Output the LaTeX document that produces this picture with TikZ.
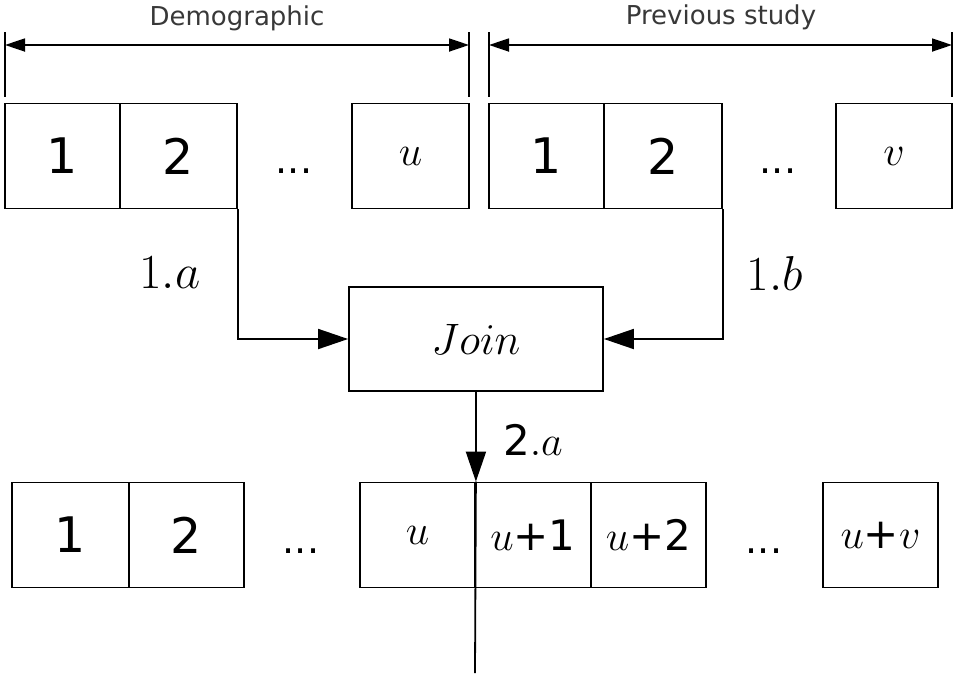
\RequirePackage{fix-cm}
\documentclass[tikz,border=0pt]{standalone}
\usepackage{fontspec}
\setmainfont{DejaVu Sans}
\usetikzlibrary{arrows.meta}
\begin{document}
\begin{tikzpicture}[x=1pt,y=-1pt,
  cell/.style={draw, line width=1.8pt, inner sep=0pt, minimum height=105pt,
    font=\fontsize{49}{49}\selectfont},
  mcell/.style={cell, font=\fontsize{42}{42}\selectfont},
  joinbox/.style={draw, line width=1.8pt, inner sep=0pt,
    minimum width=254pt, minimum height=104pt, font=\fontsize{44}{44}\selectfont},
  dots/.style={anchor=base, font=\fontsize{38}{38}\selectfont},
  flow/.style={line width=1.8pt, -{Triangle[length=30pt,width=20pt]}},
  span/.style={line width=1.8pt, {Triangle[length=20pt,width=13pt]}-{Triangle[length=20pt,width=13pt]}},
  tick/.style={line width=1.8pt},
  header/.style={font=\fontsize{26}{26}\selectfont, text=black!78},
  steplabel/.style={font=\fontsize{49}{49}\selectfont}]
\useasboundingbox (0,0) rectangle (956,673);

% demographic attributes
\node[cell, minimum width=115pt] (d1) at (62.5,156) {1};
\node[cell, minimum width=117pt] (d2) at (178.5,156) {2};
\node[dots] (ddots) at (294,173) {...};
\node[mcell, minimum width=117pt] (du) at (410.5,156) {$u$};

% previous study attributes
\node[cell, minimum width=115pt] (p1) at (546.5,156) {1};
\node[cell, minimum width=118pt] (p2) at (663,156) {2};
\node[dots] (pdots) at (778,173) {...};
\node[mcell, minimum width=116pt] (pv) at (894,156) {$v$};

% spans over the two groups
\coordinate (dtl) at (5,32);  \coordinate (dbl) at (5,97);
\coordinate (dtr) at (469,32); \coordinate (dbr) at (469,97);
\coordinate (ptl) at (489,32); \coordinate (pbl) at (489,97);
\coordinate (ptr) at (952,32); \coordinate (pbr) at (952,97);
\draw[tick] (dtl) -- (dbl);
\draw[tick] (dtr) -- (dbr);
\draw[tick] (ptl) -- (pbl);
\draw[tick] (ptr) -- (pbr);
\coordinate (dsl) at (5,45);  \coordinate (dsr) at (469,45);
\coordinate (psl) at (489,45); \coordinate (psr) at (952,45);
\draw[span] (dsl) -- (dsr);
\draw[span] (psl) -- (psr);
\node[header] (dhead) at (237,18) {Demographic};
\node[header] (phead) at (721,17) {Previous study};

% join step
\node[joinbox] (join) at (476,339) {$Join$};
\draw[flow] (d2.south east) |- (join.west);
\draw[flow] (p2.south east) |- (join.east);
\node[steplabel] (la) at (170,273) {$1.a$};
\node[steplabel] (lb) at (775,273) {$1.b$};

% joined record
\node[cell, minimum width=117pt] (b1) at (70.5,535) {1};
\node[cell, minimum width=115pt] (b2) at (186.5,535) {2};
\node[dots] (bdots) at (301,553) {...};
\node[mcell, minimum width=115pt] (bu) at (417.5,535) {$u$};
\node[mcell, minimum width=116pt] (bu1) at (533,535) {$u$+1};
\node[mcell, minimum width=115pt] (bu2) at (648.5,535) {$u$+2};
\node[dots] (bdots2) at (764,553) {...};
\node[mcell, minimum width=115pt] (buv) at (880.5,535) {$u$+$v$};

\coordinate (hit) at (bu.north east);
\coordinate (tail) at (475,673);
\draw[flow] (join.south) -- (hit);
\draw[line width=1.8pt] (hit) -- (tail);
\node[steplabel, font=\fontsize{42}{42}\selectfont] (lc) at (533,440) {2$.a$};
\end{tikzpicture}
\end{document}
